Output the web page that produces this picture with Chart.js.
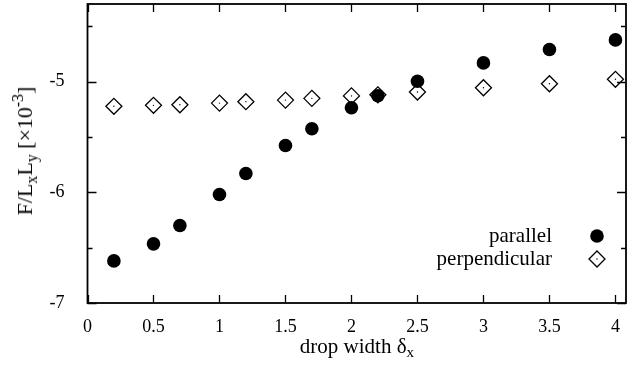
<!DOCTYPE html>
<html>
<head>
<meta charset="utf-8">
<script src="https://cdn.jsdelivr.net/npm/chart.js@4/dist/chart.umd.min.js"></script>
<style>
  html, body { margin: 0; padding: 0; background: #fff; }
  #wrap { position: relative; width: 628px; height: 371px; overflow: hidden; }
  canvas { position: absolute; left: 0; top: 0; }
  .ttl { position: absolute; font-family: "Liberation Serif", "Times New Roman", serif; font-weight: normal; color: #000; white-space: nowrap; line-height: 1; }
  .ttl sub { font-size: 72%; vertical-align: -0.3em; line-height: 0; }
  .ttl sup { font-size: 72%; vertical-align: 0.55em; line-height: 0; }
  #xt { left: 357px; top: 346px; transform: translate(-50%, -50%); font-size: 21px; }
  #yt { left: 25px; top: 151px; transform: translate(-50%, -50%) rotate(-90deg); font-size: 22px; }
</style>
</head>
<body>
<div id="wrap">
  <canvas id="c" width="628" height="371"></canvas>
  <div class="ttl" id="xt">drop width δ<sub>x</sub></div>
  <div class="ttl" id="yt">F/L<sub>x</sub>L<sub>y</sub> [×10<sup>-3</sup>]</div>
</div>
<script>
// ---- data ----
const dropWidth = [0.2, 0.5, 0.7, 1.0, 1.2, 1.5, 1.7, 2.0, 2.2, 2.5, 3.0, 3.5, 4.0];
const parallel = [-6.62, -6.466, -6.30, -6.02, -5.83, -5.578, -5.427, -5.237, -5.128, -4.998, -4.832, -4.711, -4.624];
const perpendicular = [-5.224, -5.215, -5.21, -5.195, -5.182, -5.168, -5.152, -5.13, -5.12, -5.095, -5.056, -5.02, -4.98];
const seriesNames = ["parallel", "perpendicular"];
const xTickValues = [0, 0.5, 1, 1.5, 2, 2.5, 3, 3.5, 4];
const yMajorTicks = [-7, -6, -5];
const yMinorTicks = [-6.5, -5.5, -4.5];

const toPts = (xs, ys) => xs.map((x, i) => ({ x: x, y: ys[i] }));
const FONT = '"Liberation Serif", "Times New Roman", serif';

const frameAndTicks = {
  id: 'frameAndTicks',
  afterDraw(chart) {
    const ctx = chart.ctx, a = chart.chartArea;
    const xs = chart.scales.x, ys = chart.scales.y;
    ctx.save();
    ctx.strokeStyle = '#000';
    ctx.lineWidth = 1.3;
    ctx.beginPath();
    xTickValues.forEach(v => {
      const px = Math.round(xs.getPixelForValue(v)) + 0.5;
      ctx.moveTo(px, a.bottom); ctx.lineTo(px, a.bottom - 8);
      ctx.moveTo(px, a.top); ctx.lineTo(px, a.top + 8);
    });
    yMajorTicks.forEach(v => {
      const py = Math.round(ys.getPixelForValue(v)) + 0.5;
      ctx.moveTo(a.left, py); ctx.lineTo(a.left + 9, py);
      ctx.moveTo(a.right, py); ctx.lineTo(a.right - 9, py);
    });
    yMinorTicks.forEach(v => {
      const py = Math.round(ys.getPixelForValue(v)) + 0.5;
      ctx.moveTo(a.left, py); ctx.lineTo(a.left + 5, py);
      ctx.moveTo(a.right, py); ctx.lineTo(a.right - 5, py);
    });
    ctx.stroke();
    ctx.lineWidth = 1.8;
    ctx.strokeRect(a.left, a.top, a.right - a.left, a.bottom - a.top);

    // legend (text right, symbol on the right, inside plot)
    ctx.font = '21px ' + FONT;
    ctx.fillStyle = '#000';
    ctx.textAlign = 'right';
    ctx.textBaseline = 'middle';
    const tx = 552, sx = 597, y1 = 236, y2 = 259;
    ctx.fillText(seriesNames[0], tx, y1);
    ctx.fillText(seriesNames[1], tx, y2);
    ctx.fillStyle = '#000'; ctx.strokeStyle = '#000';
    Chart.helpers.drawPoint(ctx, { pointStyle: 'circle', radius: 6.8, rotation: 0, borderWidth: 0 }, sx, y1);
    ctx.fillStyle = '#fff'; ctx.lineWidth = 1.3;
    Chart.helpers.drawPoint(ctx, { pointStyle: 'rectRot', radius: 8, rotation: 0, borderWidth: 1.3 }, sx, y2);
    ctx.fillStyle = '#000';
    Chart.helpers.drawPoint(ctx, { pointStyle: 'circle', radius: 0.7, rotation: 0, borderWidth: 0 }, sx, y2);
    ctx.restore();
  }
};

new Chart(document.getElementById('c'), {
  type: 'scatter',
  data: {
    datasets: [
      { label: seriesNames[0], data: toPts(dropWidth, parallel), pointStyle: 'circle', pointRadius: 6.8,
        backgroundColor: '#000', borderColor: '#000', borderWidth: 0, order: 0 },
      { label: seriesNames[1], data: toPts(dropWidth, perpendicular), pointStyle: 'rectRot', pointRadius: 8,
        backgroundColor: 'rgba(255,255,255,0)', borderColor: '#000', borderWidth: 1.3, order: 2 },
      { label: 'center', data: toPts(dropWidth, perpendicular), pointStyle: 'circle', pointRadius: 0.7,
        backgroundColor: '#000', borderColor: '#000', borderWidth: 0, order: 1 }
    ]
  },
  options: {
    responsive: false,
    animation: false,
    events: [],
    layout: { autoPadding: false, padding: { top: 4, right: 2, left: 0, bottom: 0 } },
    plugins: { legend: { display: false }, tooltip: { enabled: false } },
    scales: {
      x: {
        type: 'linear', min: 0, max: 4.08,
        grid: { display: false }, border: { display: false },
        afterFit(s) { s.height = 68; s.paddingLeft = 0; s.paddingRight = 0; },
        ticks: { stepSize: 0.5, includeBounds: false, padding: 5, color: '#000', maxRotation: 0,
                 font: { family: FONT, size: 18 },
                 callback: v => String(v) }
      },
      y: {
        type: 'linear', min: -7, max: -4.3,
        grid: { display: false }, border: { display: false },
        afterFit(s) { s.width = 87.5; s.paddingTop = 0; s.paddingBottom = 0; },
        ticks: { stepSize: 0.5, includeBounds: false, padding: 15, color: '#000',
                 font: { family: FONT, size: 18 },
                 callback: v => (Number.isInteger(v) ? String(v) : '') }
      }
    }
  },
  plugins: [frameAndTicks]
});
</script>
</body>
</html>
